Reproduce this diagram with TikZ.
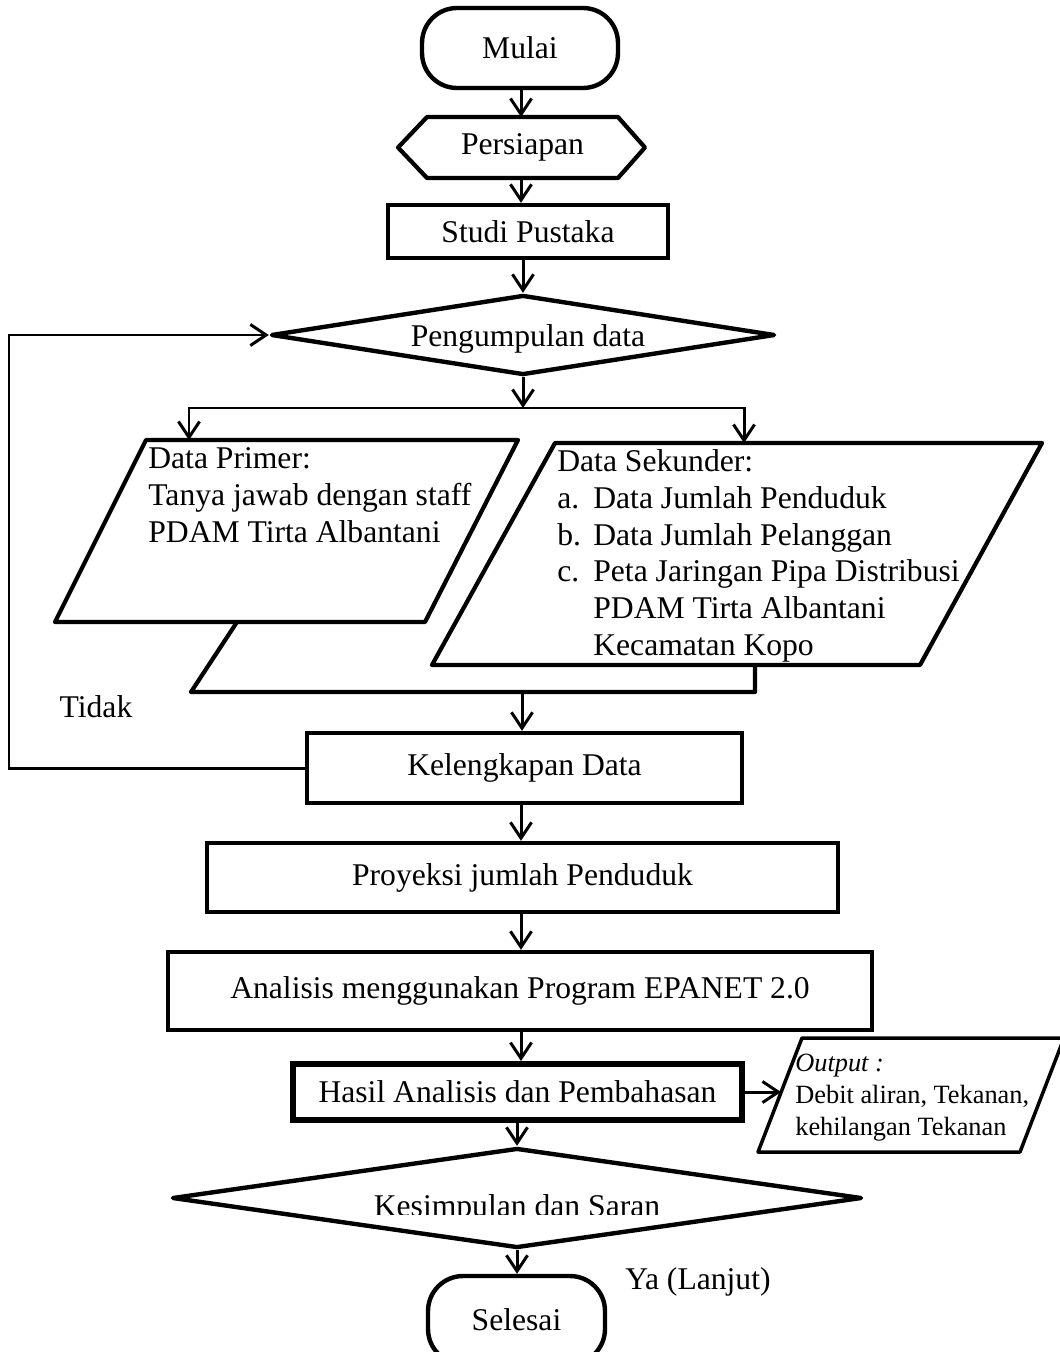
\documentclass[tikz,border=0pt]{standalone}
\usepackage{fontspec}
\setmainfont{Liberation Serif}
\usetikzlibrary{arrows.meta,shapes.geometric}

\begin{document}
\begin{tikzpicture}[
    x=0.02cm, y=-0.02cm,
    every node/.style={font=\fontsize{18}{21}\selectfont},
    proses/.style={rectangle, draw, line width=2.5pt, inner sep=0pt},
    terminal/.style={rectangle, draw, line width=2.5pt, rounded corners=0.7cm, inner sep=0pt},
    keputusan/.style={diamond, draw, line width=2.5pt, line join=round, inner sep=0pt},
    bidang/.style={line width=2.4pt, line join=round},
    panah/.style={-{Straight Barb[length=9pt,width=12pt]}, line width=1.7pt},
    isi/.style={anchor=north west, align=left, inner sep=0pt}
]

\useasboundingbox (0,0) rectangle (1060,1352);
\clip (0,0) rectangle (1060,1352);

% Alur utama
\node[terminal, minimum width=3.92cm, minimum height=1.6cm] (mulai) at (520,48) {Mulai};
\node[minimum width=3.82cm, minimum height=1.22cm, inner sep=0pt, outer sep=0pt] (persiapan) at (522.5,147.5) {Persiapan};
\draw[bidang] (persiapan.north west) -- (persiapan.north east) -- ([xshift=0.54cm]persiapan.east)
    -- (persiapan.south east) -- (persiapan.south west) -- ([xshift=-0.58cm]persiapan.west) -- cycle;
\node[proses, minimum width=5.6cm, minimum height=1.06cm] (studi) at (528,231.5) {Studi Pustaka};
\node[keputusan, aspect=6.3, minimum width=10.08cm, minimum height=1.6cm] (kumpul) at (523,335) {};
\node (kumpul-teks) at (528,339) {Pengumpulan data};

% Data primer dan sekunder
\draw[bidang] (237,622) -- (191,692) -- (755,692) -- (755,665);
\draw[bidang] (146,440) -- (518,440) -- (425,622) -- (55,622) -- cycle;
\draw[bidang] (555,443) -- (1042,443) -- (920,665) -- (432,665) -- cycle;
\node[isi] (primer) at (148,447) {Data Primer:\\Tanya jawab dengan staff\\PDAM Tirta Albantani};
\node[isi] (sekunder) at (557,449) {Data Sekunder:\\
    \makebox[0.72cm][l]{a.}Data Jumlah Penduduk\\
    \makebox[0.72cm][l]{b.}Data Jumlah Pelanggan\\
    \makebox[0.72cm][l]{c.}Peta Jaringan Pipa Distribusi\\
    \hspace*{0.72cm}PDAM Tirta Albantani\\
    \hspace*{0.72cm}Kecamatan Kopo};
\coordinate (primer-n) at (189,440);
\coordinate (sekunder-n) at (744,443);
\coordinate (cabang) at (523,408);
\coordinate (gabung) at (522,692);

\node[proses, minimum width=8.7cm, minimum height=1.4cm] (lengkap) at (524.5,768) {Kelengkapan Data};
\node[proses, minimum width=12.62cm, minimum height=1.38cm] (proyeksi) at (522.5,877.5) {Proyeksi jumlah Penduduk};
\node[proses, minimum width=14.08cm, minimum height=1.56cm] (analisis) at (520,991) {Analisis menggunakan Program EPANET 2.0};
\node[proses, line width=3.4pt, minimum width=8.98cm, minimum height=1.12cm] (hasil) at (517.5,1092) {Hasil Analisis dan Pembahasan};

% Output
\draw[bidang, line width=2pt] (802,1038) -- (1064,1038) -- (1020,1152) -- (758,1152) -- cycle;
\node[isi, font=\fontsize{15}{18}\selectfont] (keluaran) at (795,1054) {\textit{Output :}\\Debit aliran, Tekanan,\\kehilangan Tekanan};
\coordinate (keluaran-w) at (781,1092);

\node[keputusan, aspect=6.9, minimum width=13.8cm, minimum height=2cm] (kesimpulan) at (517,1198) {};
\begin{scope}
    \clip (150,1150) rectangle (880,1214);
    \node[anchor=base] (kesimpulan-teks) at (517,1216) {Kesimpulan dan Saran};
\end{scope}
\node[terminal, minimum width=3.54cm, minimum height=1.76cm] (selesai) at (516.5,1320) {Selesai};

% Label
\node (tidak) at (96,707) {Tidak};
\node (lanjut) at (698,1282) {Ya (Lanjut)};

% Panah
\coordinate (sumbu) at (521,0);
\coordinate (balik) at (9,0);
\draw[panah] (mulai.south -| sumbu) -- (persiapan.north -| sumbu);
\draw[panah] (persiapan.south -| sumbu) -- (studi.north -| sumbu);
\draw[panah] (studi.south -| kumpul.north) -- (kumpul.north);
\draw[panah] (kumpul.south) -- (cabang);
\draw[panah] (cabang) -| (primer-n);
\draw[panah] (cabang) -| (sekunder-n);
\draw[panah] (gabung) -- (lengkap.north -| gabung);
\draw[panah] (lengkap.west) -- (lengkap.west -| balik) |- (kumpul.west);
\draw[panah] (lengkap.south -| sumbu) -- (proyeksi.north -| sumbu);
\draw[panah] (proyeksi.south -| sumbu) -- (analisis.north -| sumbu);
\draw[panah] (analisis.south -| sumbu) -- (hasil.north -| sumbu);
\draw[panah] (hasil.east) -- (keluaran-w);
\draw[panah] (hasil.south -| kesimpulan.north) -- (kesimpulan.north);
\draw[panah] (kesimpulan.south) -- (selesai.north -| kesimpulan.south);

\end{tikzpicture}
\end{document}
